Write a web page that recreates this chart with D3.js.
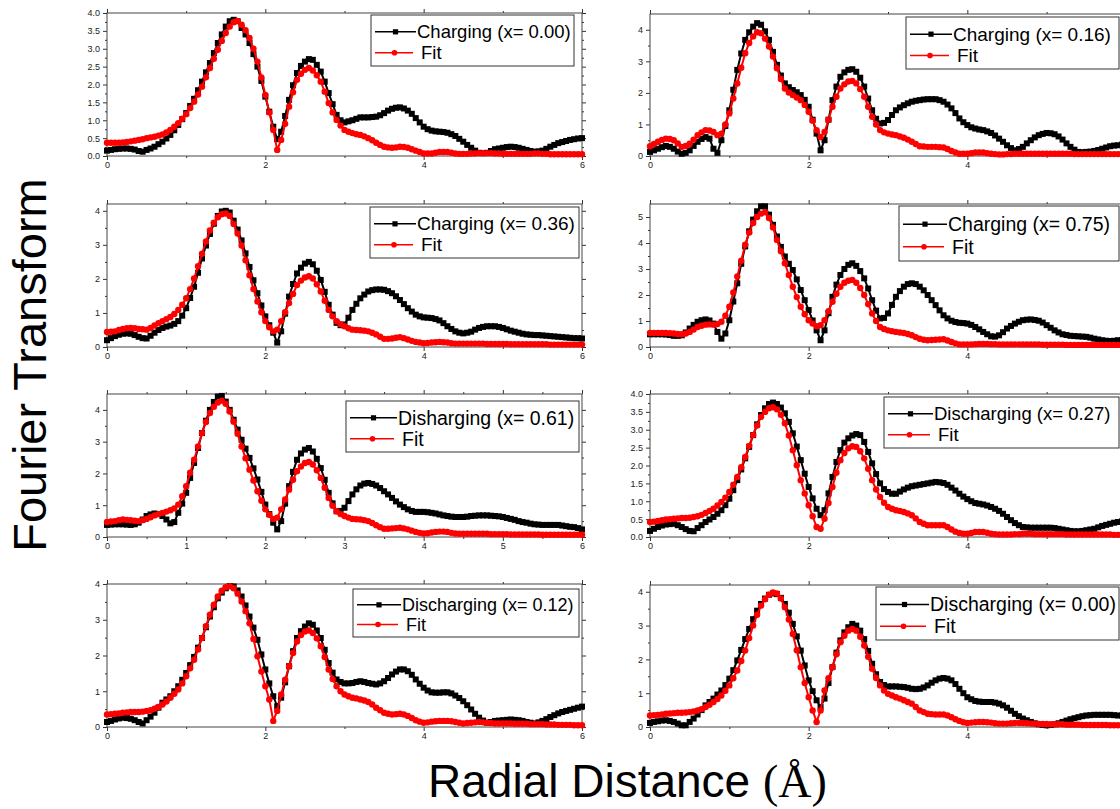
<!DOCTYPE html>
<html>
<head>
<meta charset="utf-8">
<script src="https://cdn.jsdelivr.net/npm/d3@7"></script>
<style>
body { margin: 0; background: #fff; }
svg { display: block; font-family: "Liberation Sans", Arial, sans-serif; }
</style>
</head>
<body>
<div id="chart"></div>
<script>
// Radial grid: 0 to 6 Angstrom, sampled every 0.05
var rStep = 0.05;
var radius = d3.range(0, 121).map(function(i) { return +(i * rStep).toFixed(2); });

var panelLabels = ["Charging (x= 0.00)", "Charging (x= 0.16)", "Charging (x= 0.36)", "Charging (x= 0.75)",
		   "Disharging (x= 0.61)", "Discharging (x= 0.27)", "Discharging (x= 0.12)", "Discharging (x= 0.00)"];
var fitLabel = "Fit";
var yMax = [4, 4.5, 4.2, 5.5, 4.5, 4, 4, 4.2];
var yTickStep = [0.5, 1, 1, 1, 1, 0.5, 1, 1];
var xTickStep = [2, 2, 2, 2, 1, 2, 2, 2];

// Measured FT magnitude (black squares)
var charge000 = [0.15,0.17,0.19,0.20,0.21,0.21,0.20,0.18,0.14,0.12,
		 0.17,0.21,0.26,0.33,0.40,0.49,0.59,0.72,0.87,1.03,
		 1.20,1.40,1.60,1.84,2.08,2.34,2.60,2.88,3.16,3.40,
		 3.62,3.77,3.81,3.77,3.58,3.40,3.16,2.85,2.50,2.10,
		 1.66,1.24,0.82,0.47,0.68,1.12,1.57,1.98,2.32,2.52,
		 2.64,2.71,2.69,2.55,2.36,2.08,1.76,1.45,1.15,1.00,
		 0.94,0.97,1.00,1.04,1.08,1.08,1.08,1.09,1.10,1.14,
		 1.20,1.27,1.32,1.35,1.36,1.33,1.27,1.18,1.06,0.94,
		 0.82,0.75,0.71,0.69,0.68,0.67,0.65,0.61,0.56,0.48,
		 0.40,0.31,0.23,0.15,0.09,0.08,0.09,0.14,0.19,0.21,
		 0.23,0.25,0.26,0.25,0.23,0.20,0.17,0.14,0.12,0.13,
		 0.15,0.20,0.26,0.31,0.36,0.39,0.42,0.45,0.47,0.49,
		 0.50];
var charge016 = [0.13,0.18,0.23,0.28,0.32,0.29,0.23,0.14,0.07,0.10,
		 0.18,0.32,0.45,0.54,0.60,0.55,0.23,0.10,0.50,0.95,
		 1.45,2.10,2.73,3.25,3.68,3.92,4.10,4.21,4.16,3.95,
		 3.68,3.30,2.89,2.55,2.30,2.18,2.09,2.02,1.93,1.78,
		 1.56,1.15,0.71,0.18,0.50,1.15,1.77,2.20,2.51,2.65,
		 2.73,2.75,2.67,2.48,2.20,1.82,1.45,1.18,1.03,1.05,
		 1.14,1.30,1.45,1.54,1.61,1.67,1.72,1.75,1.77,1.79,
		 1.80,1.80,1.80,1.77,1.72,1.63,1.51,1.36,1.19,1.07,
		 0.98,0.91,0.87,0.84,0.82,0.78,0.73,0.65,0.55,0.45,
		 0.34,0.25,0.18,0.22,0.29,0.40,0.50,0.59,0.66,0.70,
		 0.73,0.72,0.69,0.62,0.52,0.40,0.29,0.20,0.13,0.12,
		 0.13,0.14,0.16,0.19,0.23,0.27,0.31,0.33,0.34,0.36,
		 0.37];
var charge036 = [0.20,0.26,0.32,0.36,0.39,0.40,0.39,0.35,0.30,0.26,
		 0.25,0.33,0.42,0.50,0.56,0.60,0.63,0.68,0.76,0.92,
		 1.14,1.44,1.77,2.18,2.60,2.98,3.32,3.62,3.85,3.98,
		 4.00,3.95,3.71,3.45,3.13,2.75,2.35,1.96,1.58,1.22,
		 0.90,0.64,0.42,0.13,0.46,0.98,1.48,1.85,2.16,2.33,
		 2.45,2.50,2.43,2.24,1.97,1.62,1.24,0.95,0.71,0.64,
		 0.66,0.86,1.09,1.27,1.43,1.54,1.63,1.67,1.69,1.69,
		 1.68,1.64,1.58,1.49,1.38,1.26,1.14,1.04,0.95,0.90,
		 0.87,0.86,0.85,0.82,0.78,0.70,0.61,0.53,0.46,0.42,
		 0.40,0.42,0.45,0.51,0.56,0.59,0.61,0.61,0.61,0.59,
		 0.56,0.52,0.48,0.45,0.42,0.39,0.37,0.36,0.35,0.35,
		 0.34,0.33,0.32,0.31,0.30,0.29,0.28,0.27,0.26,0.26,
		 0.25];
var charge075 = [0.49,0.49,0.49,0.49,0.48,0.46,0.43,0.43,0.45,0.56,
		 0.71,0.85,0.97,1.03,1.06,1.02,0.90,0.58,0.32,0.52,
		 1.03,1.75,2.45,3.20,3.87,4.45,4.90,5.22,5.41,5.41,
		 5.09,4.70,4.25,3.85,3.48,3.20,2.96,2.60,2.19,1.80,
		 1.42,1.02,0.64,0.26,0.64,1.30,1.93,2.40,2.77,3.00,
		 3.16,3.22,3.12,2.92,2.64,2.25,1.80,1.40,1.10,1.12,
		 1.29,1.62,1.93,2.15,2.32,2.42,2.45,2.42,2.32,2.18,
		 2.00,1.80,1.61,1.41,1.22,1.10,1.01,0.96,0.93,0.92,
		 0.90,0.85,0.77,0.68,0.58,0.49,0.41,0.40,0.45,0.57,
		 0.71,0.81,0.90,0.97,1.03,1.05,1.06,1.04,1.01,0.94,
		 0.84,0.74,0.64,0.56,0.49,0.46,0.43,0.42,0.41,0.40,
		 0.39,0.36,0.32,0.29,0.26,0.24,0.23,0.24,0.26,0.27,
		 0.28];
var discharge061 = [0.38,0.39,0.40,0.40,0.40,0.39,0.38,0.40,0.45,0.55,
		    0.66,0.71,0.74,0.72,0.66,0.55,0.43,0.47,0.76,1.05,
		    1.39,1.86,2.33,2.80,3.27,3.66,4.00,4.25,4.42,4.44,
		    4.26,4.00,3.69,3.38,3.06,2.78,2.49,2.16,1.81,1.42,
		    1.02,0.72,0.45,0.24,0.50,1.05,1.60,2.05,2.43,2.63,
		    2.75,2.80,2.69,2.46,2.17,1.80,1.39,1.06,0.81,0.82,
		    0.92,1.13,1.34,1.50,1.62,1.68,1.70,1.67,1.62,1.54,
		    1.44,1.34,1.23,1.12,1.02,0.94,0.87,0.82,0.79,0.79,
		    0.79,0.78,0.76,0.74,0.71,0.68,0.66,0.64,0.63,0.63,
		    0.63,0.64,0.66,0.67,0.68,0.68,0.68,0.67,0.66,0.65,
		    0.63,0.60,0.57,0.54,0.50,0.47,0.45,0.42,0.40,0.39,
		    0.38,0.38,0.38,0.38,0.38,0.36,0.34,0.32,0.31,0.28,
		    0.24];
var discharge027 = [0.17,0.23,0.28,0.32,0.35,0.36,0.37,0.33,0.28,0.22,
		    0.17,0.16,0.25,0.33,0.42,0.49,0.56,0.65,0.75,0.89,
		    1.07,1.31,1.59,1.89,2.20,2.52,2.85,3.15,3.41,3.60,
		    3.72,3.76,3.72,3.62,3.46,3.22,2.90,2.53,2.15,1.77,
		    1.40,1.08,0.79,0.61,0.75,1.22,1.68,2.10,2.43,2.64,
		    2.76,2.84,2.88,2.85,2.66,2.38,2.06,1.76,1.50,1.34,
		    1.26,1.21,1.21,1.27,1.33,1.38,1.42,1.44,1.46,1.48,
		    1.50,1.52,1.54,1.53,1.51,1.46,1.38,1.30,1.21,1.13,
		    1.06,1.00,0.95,0.93,0.91,0.88,0.84,0.79,0.73,0.65,
		    0.56,0.47,0.39,0.33,0.28,0.27,0.26,0.26,0.26,0.26,
		    0.26,0.26,0.25,0.23,0.21,0.19,0.17,0.16,0.16,0.17,
		    0.19,0.21,0.23,0.27,0.31,0.34,0.37,0.40,0.42,0.44,
		    0.46];
var discharge012 = [0.14,0.17,0.21,0.24,0.26,0.25,0.23,0.19,0.14,0.10,
		    0.19,0.29,0.40,0.54,0.68,0.77,0.86,1.00,1.14,1.32,
		    1.51,1.73,1.96,2.22,2.49,2.79,3.09,3.35,3.60,3.76,
		    3.88,3.94,3.93,3.82,3.65,3.40,3.09,2.78,2.44,2.03,
		    1.61,1.22,0.86,0.58,0.82,1.25,1.70,2.12,2.49,2.68,
		    2.81,2.90,2.86,2.70,2.49,2.16,1.79,1.52,1.33,1.26,
		    1.22,1.22,1.23,1.26,1.28,1.26,1.23,1.21,1.19,1.22,
		    1.28,1.37,1.47,1.55,1.61,1.61,1.56,1.46,1.33,1.21,
		    1.10,1.02,0.97,0.96,0.96,0.97,0.97,0.94,0.88,0.81,
		    0.72,0.61,0.49,0.37,0.26,0.18,0.12,0.14,0.17,0.18,
		    0.19,0.20,0.21,0.20,0.19,0.17,0.14,0.12,0.10,0.13,
		    0.17,0.22,0.28,0.33,0.38,0.42,0.45,0.48,0.51,0.54,
		    0.57];
var discharge000 = [0.12,0.15,0.17,0.19,0.20,0.18,0.15,0.10,0.05,0.05,
		    0.15,0.25,0.37,0.50,0.64,0.74,0.84,0.96,1.08,1.24,
		    1.43,1.68,1.97,2.28,2.60,2.90,3.19,3.44,3.64,3.80,
		    3.91,3.95,3.93,3.82,3.64,3.38,3.05,2.68,2.26,1.82,
		    1.38,1.06,0.79,0.59,0.84,1.30,1.77,2.20,2.56,2.80,
		    2.95,3.05,3.00,2.85,2.60,2.25,1.87,1.56,1.33,1.24,
		    1.20,1.20,1.20,1.19,1.18,1.16,1.13,1.12,1.13,1.17,
		    1.23,1.31,1.38,1.43,1.45,1.43,1.38,1.27,1.13,1.00,
		    0.88,0.82,0.77,0.75,0.74,0.74,0.74,0.72,0.69,0.64,
		    0.57,0.48,0.39,0.32,0.25,0.20,0.15,0.11,0.08,0.06,
		    0.05,0.06,0.08,0.11,0.15,0.19,0.23,0.26,0.29,0.32,
		    0.34,0.35,0.36,0.36,0.36,0.36,0.36,0.35,0.34,0.34,
		    0.33];

// Fitted FT magnitude (red circles)
var fit000c = [0.37,0.37,0.37,0.37,0.38,0.39,0.41,0.43,0.45,0.47,
	       0.50,0.52,0.54,0.57,0.60,0.66,0.73,0.82,0.92,1.04,
	       1.17,1.34,1.52,1.72,1.94,2.20,2.46,2.72,2.97,3.22,
	       3.44,3.62,3.74,3.78,3.67,3.52,3.30,3.00,2.64,2.20,
	       1.71,1.22,0.73,0.17,0.45,0.90,1.38,1.78,2.13,2.30,
	       2.41,2.46,2.39,2.26,2.08,1.80,1.48,1.22,1.01,0.85,
	       0.73,0.68,0.64,0.61,0.59,0.55,0.50,0.44,0.37,0.31,
	       0.26,0.24,0.23,0.24,0.26,0.25,0.23,0.19,0.15,0.11,
	       0.07,0.07,0.07,0.09,0.11,0.11,0.11,0.09,0.07,0.06,
	       0.06,0.06,0.07,0.07,0.08,0.08,0.08,0.08,0.07,0.07,
	       0.06,0.06,0.06,0.06,0.06,0.06,0.06,0.06,0.07,0.07,
	       0.06,0.06,0.05,0.05,0.05,0.05,0.05,0.05,0.05,0.05,
	       0.05];
var fit016c = [0.31,0.38,0.45,0.51,0.55,0.54,0.50,0.40,0.29,0.32,
	       0.39,0.52,0.66,0.75,0.82,0.81,0.76,0.66,0.71,1.00,
	       1.35,1.82,2.30,2.80,3.26,3.58,3.79,3.92,3.89,3.72,
	       3.47,3.15,2.78,2.44,2.14,2.01,1.93,1.85,1.77,1.62,
	       1.40,1.12,0.82,0.60,0.76,1.15,1.56,1.88,2.14,2.27,
	       2.36,2.38,2.30,2.12,1.88,1.56,1.24,1.00,0.82,0.75,
	       0.71,0.68,0.66,0.62,0.58,0.52,0.45,0.38,0.31,0.30,
	       0.29,0.29,0.29,0.28,0.27,0.22,0.16,0.11,0.07,0.07,
	       0.07,0.09,0.11,0.11,0.11,0.09,0.07,0.06,0.05,0.05,
	       0.06,0.06,0.07,0.07,0.07,0.07,0.07,0.07,0.07,0.07,
	       0.07,0.07,0.07,0.07,0.07,0.07,0.07,0.06,0.06,0.06,
	       0.06,0.06,0.06,0.06,0.06,0.06,0.06,0.06,0.06,0.06,
	       0.06];
var fit036c = [0.44,0.45,0.46,0.50,0.53,0.55,0.56,0.55,0.53,0.52,
	       0.51,0.56,0.63,0.70,0.76,0.82,0.88,0.97,1.09,1.24,
	       1.43,1.70,2.01,2.37,2.74,3.10,3.42,3.65,3.81,3.90,
	       3.92,3.85,3.61,3.33,2.98,2.55,2.11,1.70,1.34,1.02,
	       0.76,0.58,0.46,0.51,0.76,1.02,1.29,1.56,1.82,1.95,
	       2.04,2.08,2.01,1.84,1.63,1.36,1.09,0.90,0.76,0.67,
	       0.61,0.55,0.51,0.50,0.49,0.48,0.46,0.42,0.37,0.30,
	       0.24,0.24,0.25,0.27,0.29,0.26,0.22,0.18,0.15,0.13,
	       0.11,0.12,0.13,0.14,0.15,0.14,0.13,0.11,0.10,0.10,
	       0.10,0.10,0.10,0.10,0.10,0.10,0.09,0.09,0.09,0.09,
	       0.09,0.09,0.08,0.08,0.08,0.08,0.08,0.08,0.08,0.08,
	       0.08,0.08,0.07,0.07,0.07,0.07,0.07,0.07,0.07,0.07,
	       0.07];
var fit075c = [0.54,0.54,0.54,0.54,0.54,0.53,0.52,0.50,0.49,0.52,
	       0.58,0.67,0.77,0.82,0.86,0.87,0.86,0.88,0.97,1.20,
	       1.55,2.10,2.71,3.32,3.93,4.40,4.77,5.00,5.13,5.18,
	       4.96,4.60,4.12,3.68,3.22,2.77,2.32,1.92,1.55,1.26,
	       1.03,0.90,0.80,0.84,1.03,1.38,1.74,2.05,2.32,2.47,
	       2.55,2.58,2.47,2.27,2.00,1.65,1.29,1.00,0.77,0.69,
	       0.64,0.61,0.58,0.56,0.54,0.50,0.45,0.38,0.32,0.28,
	       0.26,0.27,0.28,0.29,0.30,0.25,0.19,0.14,0.10,0.10,
	       0.10,0.10,0.11,0.12,0.12,0.12,0.11,0.11,0.10,0.10,
	       0.10,0.10,0.10,0.10,0.10,0.10,0.10,0.10,0.10,0.09,
	       0.09,0.09,0.09,0.09,0.09,0.08,0.08,0.08,0.08,0.08,
	       0.08,0.08,0.08,0.08,0.08,0.08,0.08,0.08,0.08,0.08,
	       0.08];
var fit061d = [0.47,0.49,0.50,0.53,0.55,0.54,0.53,0.51,0.50,0.53,
	       0.57,0.62,0.68,0.72,0.76,0.80,0.84,0.90,1.02,1.28,
	       1.60,2.02,2.43,2.85,3.27,3.62,3.90,4.10,4.23,4.29,
	       4.19,3.95,3.63,3.25,2.85,2.48,2.12,1.78,1.44,1.14,
	       0.87,0.70,0.57,0.61,0.87,1.18,1.49,1.80,2.07,2.22,
	       2.33,2.36,2.28,2.10,1.86,1.55,1.23,0.98,0.81,0.72,
	       0.66,0.61,0.57,0.56,0.55,0.53,0.50,0.44,0.37,0.31,
	       0.26,0.26,0.27,0.28,0.29,0.27,0.24,0.20,0.16,0.13,
	       0.11,0.12,0.14,0.16,0.17,0.17,0.16,0.13,0.11,0.10,
	       0.10,0.10,0.10,0.10,0.10,0.10,0.10,0.09,0.09,0.09,
	       0.09,0.09,0.08,0.08,0.08,0.08,0.08,0.08,0.08,0.08,
	       0.07,0.07,0.07,0.07,0.07,0.07,0.07,0.07,0.07,0.07,
	       0.07];
var fit027d = [0.42,0.43,0.45,0.47,0.49,0.50,0.51,0.52,0.53,0.53,
	       0.54,0.56,0.58,0.62,0.67,0.73,0.79,0.88,0.98,1.10,
	       1.26,1.46,1.68,1.95,2.24,2.55,2.85,3.12,3.36,3.50,
	       3.60,3.63,3.57,3.42,3.18,2.84,2.43,2.01,1.59,1.22,
	       0.89,0.58,0.28,0.23,0.51,0.95,1.40,1.80,2.15,2.35,
	       2.48,2.54,2.52,2.40,2.20,1.91,1.59,1.33,1.12,0.96,
	       0.84,0.79,0.75,0.73,0.70,0.66,0.61,0.52,0.42,0.37,
	       0.33,0.33,0.33,0.33,0.33,0.28,0.21,0.15,0.11,0.09,
	       0.09,0.11,0.14,0.14,0.14,0.12,0.09,0.08,0.07,0.07,
	       0.07,0.07,0.08,0.08,0.09,0.09,0.09,0.08,0.08,0.08,
	       0.08,0.08,0.08,0.08,0.08,0.07,0.07,0.07,0.07,0.07,
	       0.07,0.07,0.07,0.07,0.07,0.07,0.07,0.06,0.06,0.06,
	       0.06];
var fit012d = [0.35,0.36,0.37,0.38,0.40,0.41,0.42,0.42,0.42,0.43,
	       0.45,0.47,0.51,0.56,0.63,0.71,0.82,0.93,1.05,1.22,
	       1.42,1.64,1.88,2.17,2.49,2.82,3.14,3.42,3.65,3.81,
	       3.91,3.94,3.88,3.73,3.51,3.24,2.90,2.46,1.98,1.55,
	       1.14,0.77,0.17,0.45,0.91,1.32,1.70,2.07,2.39,2.57,
	       2.67,2.70,2.63,2.48,2.26,1.96,1.61,1.34,1.14,1.00,
	       0.91,0.86,0.82,0.80,0.77,0.74,0.70,0.63,0.54,0.47,
	       0.40,0.37,0.35,0.36,0.37,0.35,0.31,0.25,0.19,0.15,
	       0.12,0.13,0.15,0.16,0.17,0.17,0.17,0.16,0.14,0.12,
	       0.10,0.11,0.12,0.13,0.14,0.13,0.12,0.11,0.10,0.10,
	       0.10,0.10,0.10,0.09,0.09,0.09,0.09,0.08,0.08,0.08,
	       0.08,0.07,0.07,0.07,0.06,0.06,0.06,0.06,0.05,0.05,
	       0.05];
var fit000d = [0.34,0.35,0.36,0.37,0.39,0.40,0.41,0.42,0.42,0.43,
	       0.44,0.46,0.49,0.53,0.59,0.66,0.74,0.83,0.93,1.07,
	       1.23,1.44,1.67,1.95,2.26,2.63,3.00,3.32,3.59,3.78,
	       3.91,3.98,3.95,3.80,3.54,3.18,2.75,2.27,1.77,1.30,
	       0.88,0.49,0.15,0.49,1.08,1.44,1.77,2.15,2.51,2.70,
	       2.85,2.90,2.85,2.67,2.41,2.08,1.72,1.45,1.23,1.08,
	       0.98,0.93,0.88,0.84,0.79,0.74,0.69,0.59,0.49,0.44,
	       0.39,0.38,0.37,0.37,0.37,0.34,0.29,0.23,0.18,0.14,
	       0.12,0.13,0.14,0.15,0.15,0.14,0.13,0.11,0.10,0.10,
	       0.10,0.11,0.12,0.12,0.12,0.11,0.10,0.10,0.09,0.09,
	       0.09,0.08,0.08,0.08,0.08,0.07,0.07,0.07,0.07,0.06,
	       0.06,0.06,0.06,0.06,0.06,0.06,0.05,0.05,0.05,0.05,
	       0.05];

var measured = [charge000, charge016, charge036, charge075, discharge061, discharge027, discharge012, discharge000];
var fitted = [fit000c, fit016c, fit036c, fit075c, fit061d, fit027d, fit012d, fit000d];

// Panel placement on the page (plot area and legend box), in pixels
var layout = [
    {x0: 107, x1: 582, y0: 13, y1: 156, leg: {l: 371, t: 15, r: 574, b: 66, tx: 417, fs: 18.5}},
    {x0: 650, x1: 1126, y0: 14, y1: 156, leg: {l: 906, t: 17, r: 1119, b: 69, tx: 953, fs: 19}},
    {x0: 107, x1: 582, y0: 204, y1: 347, leg: {l: 370, t: 207, r: 579, b: 258, tx: 417, fs: 19}},
    {x0: 650, x1: 1126, y0: 204, y1: 347, leg: {l: 899, t: 206, r: 1119, b: 261, tx: 948, fs: 19.5}},
    {x0: 107, x1: 582, y0: 394, y1: 537, leg: {l: 346, t: 401, r: 579, b: 452, tx: 398, fs: 19.5}},
    {x0: 650, x1: 1126, y0: 394, y1: 537, leg: {l: 884, t: 397, r: 1119, b: 448, tx: 934, fs: 18.5}},
    {x0: 107, x1: 582, y0: 584, y1: 727, leg: {l: 353, t: 589, r: 579, b: 637, tx: 402, fs: 18}},
    {x0: 650, x1: 1126, y0: 585, y1: 727, leg: {l: 876, t: 587, r: 1119, b: 640, tx: 930, fs: 19.5}}
];

var W = 1120, H = 809;
var sq = 6, dotR = 3.2;   // marker sizes

var svg = d3.select("#chart").append("svg")
    .attr("width", W)
    .attr("height", H);

function drawAxis(g, axis, transform) {
    var a = g.append("g").attr("transform", transform).call(axis);
    a.select(".domain").remove();
    a.selectAll("line").attr("stroke", "#333");
    a.selectAll("text")
	.attr("fill", "#222")
	.style("font-size", "9px")
	.style("font-family", "'Liberation Sans', Arial, sans-serif");
    return a;
}

function drawPanel(i) {
    var L = layout[i];
    var g = svg.append("g");

    var x = d3.scaleLinear().domain([0, 6]).range([L.x0, L.x1]);
    var y = d3.scaleLinear().domain([0, yMax[i]]).range([L.y1, L.y0]);

    var xs = xTickStep[i], ys = yTickStep[i];
    // ticks that fall past the page edge are not drawn
    var onPage = function(v) { return x(v) <= W - 4; };
    var xMajor = d3.range(0, 6 + 1e-9, xs).filter(onPage);
    var xMinor = d3.range(xs / 2, 6, xs).filter(onPage);
    var yMajor = d3.range(0, yMax[i] + 1e-9, ys);
    var yMinor = d3.range(ys / 2, yMax[i], ys);
    var yFmt = ys < 1 ? d3.format(".1f") : d3.format("d");

    // major + minor ticks on all four sides, labels bottom/left only
    drawAxis(g, d3.axisBottom(x).tickValues(xMajor).tickSize(4).tickSizeOuter(0).tickPadding(2).tickFormat(d3.format("d")),
	     "translate(0," + L.y1 + ")");
    drawAxis(g, d3.axisBottom(x).tickValues(xMinor).tickSize(2).tickSizeOuter(0).tickFormat(""),
	     "translate(0," + L.y1 + ")");
    drawAxis(g, d3.axisTop(x).tickValues(xMajor).tickSize(4).tickSizeOuter(0).tickFormat(""),
	     "translate(0," + L.y0 + ")");
    drawAxis(g, d3.axisTop(x).tickValues(xMinor).tickSize(2).tickSizeOuter(0).tickFormat(""),
	     "translate(0," + L.y0 + ")");
    drawAxis(g, d3.axisLeft(y).tickValues(yMajor).tickSize(4).tickSizeOuter(0).tickPadding(3).tickFormat(yFmt),
	     "translate(" + L.x0 + ",0)");
    drawAxis(g, d3.axisLeft(y).tickValues(yMinor).tickSize(2).tickSizeOuter(0).tickFormat(""),
	     "translate(" + L.x0 + ",0)");
    drawAxis(g, d3.axisRight(y).tickValues(yMajor).tickSize(4).tickSizeOuter(0).tickFormat(""),
	     "translate(" + L.x1 + ",0)");
    drawAxis(g, d3.axisRight(y).tickValues(yMinor).tickSize(2).tickSizeOuter(0).tickFormat(""),
	     "translate(" + L.x1 + ",0)");

    g.append("rect")
	.attr("x", L.x0).attr("y", L.y0)
	.attr("width", L.x1 - L.x0).attr("height", L.y1 - L.y0)
	.attr("fill", "none")
	.attr("stroke", "#444")
	.attr("stroke-width", 1);

    var line = d3.line()
	.x(function(d, k) { return x(radius[k]); })
	.y(function(d) { return y(d); });

    // measured data: black line with squares
    g.append("path")
	.datum(measured[i])
	.attr("d", line)
	.attr("fill", "none")
	.attr("stroke", "#000")
	.attr("stroke-width", 2);
    g.append("g").selectAll("rect")
	.data(measured[i])
	.enter().append("rect")
	.attr("x", function(d, k) { return x(radius[k]) - sq / 2; })
	.attr("y", function(d) { return y(d) - sq / 2; })
	.attr("width", sq).attr("height", sq)
	.attr("fill", "#000");

    // fit: red line with circles
    g.append("path")
	.datum(fitted[i])
	.attr("d", line)
	.attr("fill", "none")
	.attr("stroke", "#ff0000")
	.attr("stroke-width", 2);
    g.append("g").selectAll("circle")
	.data(fitted[i])
	.enter().append("circle")
	.attr("cx", function(d, k) { return x(radius[k]); })
	.attr("cy", function(d) { return y(d); })
	.attr("r", dotR)
	.attr("fill", "#ff0000");

    // legend
    var lg = L.leg;
    var h = lg.b - lg.t;
    var row1 = lg.t + h * 0.33, row2 = lg.t + h * 0.74;
    var lx1 = lg.l + 4, lx2 = lg.tx - 1, lmid = (lx1 + lx2) / 2;
    g.append("rect")
	.attr("x", lg.l).attr("y", lg.t)
	.attr("width", lg.r - lg.l).attr("height", h)
	.attr("fill", "#fff")
	.attr("stroke", "#333")
	.attr("stroke-width", 1);
    g.append("line")
	.attr("x1", lx1).attr("x2", lx2).attr("y1", row1).attr("y2", row1)
	.attr("stroke", "#000").attr("stroke-width", 1.5);
    g.append("rect")
	.attr("x", lmid - 2.6).attr("y", row1 - 2.6)
	.attr("width", 5.2).attr("height", 5.2)
	.attr("fill", "#000");
    g.append("text")
	.attr("x", lg.tx).attr("y", row1).attr("dy", "0.35em")
	.style("font-size", lg.fs + "px")
	.attr("fill", "#000")
	.text(panelLabels[i]);
    g.append("line")
	.attr("x1", lx1).attr("x2", lx2 - 3).attr("y1", row2).attr("y2", row2)
	.attr("stroke", "#ff0000").attr("stroke-width", 1.5);
    g.append("circle")
	.attr("cx", lmid - 1).attr("cy", row2).attr("r", 2.8)
	.attr("fill", "#ff0000");
    g.append("text")
	.attr("x", lg.tx + 4).attr("y", row2).attr("dy", "0.35em")
	.style("font-size", lg.fs + "px")
	.attr("fill", "#000")
	.text(fitLabel);
}

for (var i = 0; i < layout.length; i++) drawPanel(i);

// shared axis titles
svg.append("text")
    .attr("transform", "translate(46,365) rotate(-90)")
    .attr("text-anchor", "middle")
    .style("font-size", "47px")
    .attr("fill", "#000")
    .text("Fourier Transform");

var xTitle = svg.append("text")
    .attr("x", 428).attr("y", 797)
    .style("font-size", "46px")
    .attr("fill", "#000");
xTitle.append("tspan").text("Radial Distance ");
xTitle.append("tspan")
    .style("font-family", "'Liberation Serif', 'Times New Roman', serif")
    .text("(\u00C5)");
</script>
</body>
</html>
